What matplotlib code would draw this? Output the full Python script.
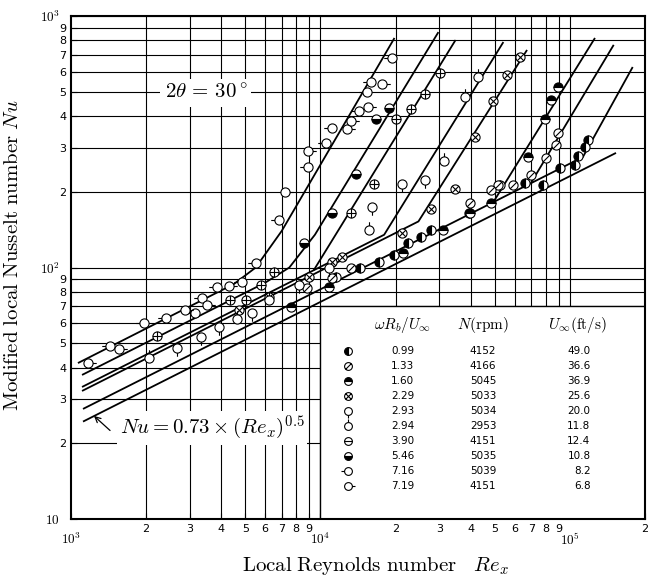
import matplotlib.pyplot as plt
import numpy as np
from matplotlib.path import Path
from matplotlib.patches import Rectangle
from matplotlib.ticker import FixedLocator, FixedFormatter

plt.rcParams['mathtext.fontset'] = 'cm'
plt.rcParams['font.family'] = 'DejaVu Sans'

# ---- legend table ----
ratio = ['0.99', '1.33', '1.60', '2.29', '2.93', '2.94', '3.90', '5.46', '7.16', '7.19']
rpm = ['4152', '4166', '5045', '5033', '5034', '2953', '4151', '5035', '5039', '4151']
u_inf = ['49.0', '36.6', '36.9', '25.6', '20.0', '11.8', '12.4', '10.8', '8.2', '6.8']

# ---- fitted curves (Re, Nu) ----
base_re = [1117, 153000]
base_nu = [24.4, 285.6]
p5_re = [1117, 112700, 178500]          # -> steep branch S8
p5_nu = [27.4, 275, 627]
s6_re = [49300, 126000]
s6_nu = [182, 818]
s7_re = [69800, 149800]
s7_nu = [217, 768]
p4_re = [1107, 24700, 67300]
p4_nu = [32.3, 152.5, 733]
p3_re = [1107, 18000, 54100]
p3_nu = [33.5, 135, 788]
s3_re = [9400, 34800]
s3_nu = [97.6, 803]
p2_re = [1107, 6000, 7500, 9500, 29700]
p2_nu = [37.4, 87, 100, 135, 863]
p1_re = [1066, 4500, 5500, 7000, 19800]
p1_nu = [41.7, 86, 100, 140, 818]

# ---- measured points ----
re_099 = [118000, 114800, 107700, 104700, 91200, 78000, 66100, 52600, 39500, 27860, 25180,
          22340, 19630, 17140, 14390, 11530]
nu_099 = [321, 301, 277, 256, 249, 213, 217, 213, 165, 141, 132, 125, 112, 105, 100, 91.6]
re_133 = [89540, 87900, 80200, 69800, 59200, 51600, 48400, 39900, 13240, 11120, 8830]
nu_133 = [343, 307, 272, 233, 213, 213, 203, 180, 100, 90.8, 82.8]
re_160 = [89540, 83950, 79400, 67900, 48400, 39900, 31100, 21500, 10820, 7620]
nu_160 = [522, 463, 389, 275, 180, 165, 141, 114, 83.6, 69.7]
re_229 = [63100, 56100, 49300, 41800, 34750, 27860, 21130, 12190, 11120, 8995, 6223, 4732]
nu_229 = [687, 582, 459, 330, 205, 171, 137, 110, 105, 91.6, 76.4, 67.8]
re_293 = [26360, 21130, 16070, 10820, 8200, 5333, 3936, 3334, 2649]
nu_293 = [223, 215, 174, 100, 85.1, 65.9, 58.0, 53.0, 47.9]
re_294 = [42950, 38110, 31410, 15630, 6223, 4645, 2046]
nu_294 = [571, 476, 265, 141, 74.3, 62.4, 43.6]
re_390 = [30270, 26360, 22960, 20000, 16370, 13240, 6520, 5780, 5050, 4355, 2203]
nu_390 = [593, 490, 427, 389, 215, 165, 95.9, 85.1, 74.3, 74.3, 53.5]
re_546 = [18750, 16670, 13870, 11120, 8590]
nu_546 = [431, 389, 235, 165, 125]
re_716 = [1432, 1954, 2393, 3155, 3365, 3864, 4864, 5534, 6823, 8913, 10520, 11120, 14260,
          15350, 15920, 19280]
nu_716 = [48.8, 60.1, 63.0, 65.9, 75.7, 83.6, 87.5, 104, 154, 251, 313, 359, 419, 499, 547, 681]
re_719 = [1169, 1556, 2851, 3524, 4315, 7211, 8913, 12770, 13240, 15490, 17620]
nu_719 = [41.7, 47.4, 67.8, 71.0, 84.3, 200, 291, 356, 383, 434, 537]

# ---- marker shapes ----
circ = Path.unit_circle()


def seg(p0, p1):
    return Path([p0, p1], [Path.MOVETO, Path.LINETO])


def mk(*segs):
    return Path.make_compound_path(circ, *segs)


m_slash = mk(seg((-0.71, -0.71), (0.71, 0.71)))
m_cross = mk(seg((-0.71, -0.71), (0.71, 0.71)), seg((-0.71, 0.71), (0.71, -0.71)))
m_plus = mk(seg((-1, 0), (1, 0)), seg((0, -1), (0, 1)))
m_minus = mk(seg((-1, 0), (1, 0)))
m_down = mk(seg((0, -1), (0, -1.8)))
m_up = mk(seg((0, 1), (0, 1.8)))
m_left = mk(seg((-1, 0), (-1.8, 0)))
m_right = mk(seg((1, 0), (1.8, 0)))

MS = 6.6
styles = [
    dict(marker='o', fillstyle='left', mfc='black', markerfacecoloralt='white', ms=MS),
    dict(marker=m_slash, mfc='white', ms=MS),
    dict(marker='o', fillstyle='top', mfc='black', markerfacecoloralt='white', ms=MS),
    dict(marker=m_cross, mfc='white', ms=MS),
    dict(marker=m_down, mfc='white', ms=MS * 1.8),
    dict(marker=m_up, mfc='white', ms=MS * 1.8),
    dict(marker=m_plus, mfc='white', ms=MS),
    dict(marker='o', fillstyle='bottom', mfc='black', markerfacecoloralt='white', ms=MS),
    dict(marker=m_left, mfc='white', ms=MS * 1.8),
    dict(marker=m_right, mfc='white', ms=MS * 1.8),
]
series = [(re_099, nu_099), (re_133, nu_133), (re_160, nu_160), (re_229, nu_229),
          (re_293, nu_293), (re_294, nu_294), (re_390, nu_390), (re_546, nu_546),
          (re_716, nu_716), (re_719, nu_719)]

fig = plt.figure(figsize=(6.48, 5.79), dpi=100)
ax = fig.add_axes([0.1096, 0.1036, 0.8858, 0.8687])
ax.set_xscale('log')
ax.set_yscale('log')
ax.set_xlim(1e3, 2e5)
ax.set_ylim(10, 1000)

# grid
for e in (3, 4):
    for k in range(2, 11):
        ax.axvline(k * 10 ** e, color='black', lw=0.8, zorder=1)
for e in (1, 2):
    for k in range(2, 11):
        ax.axhline(k * 10 ** e, color='black', lw=0.8, zorder=1)

# legend box
ax.add_patch(Rectangle((1e4, 10), 2e5 - 1e4, 60, facecolor='white', edgecolor='black',
                       lw=1.0, zorder=2))

# fitted curves
for r, n in [(base_re, base_nu), (p5_re, p5_nu), (s6_re, s6_nu), (s7_re, s7_nu),
             (p4_re, p4_nu), (p3_re, p3_nu), (s3_re, s3_nu), (p2_re, p2_nu), (p1_re, p1_nu)]:
    ax.plot(r, n, color='black', lw=1.3, zorder=3, solid_capstyle='butt')

# points
for (r, n), st in zip(series, styles):
    ax.plot(r, n, ls='none', mec='black', mew=0.8, zorder=4, **st)

# legend table
ax.text(0.578, 0.386, r'$\omega R_b/U_\infty$', transform=ax.transAxes, ha='center',
        va='center', fontsize=11, zorder=6)
ax.text(0.718, 0.386, r'$N(\mathrm{rpm})$', transform=ax.transAxes, ha='center',
        va='center', fontsize=11, zorder=6)
ax.text(0.882, 0.386, r'$U_\infty(\mathrm{ft/s})$', transform=ax.transAxes, ha='center',
        va='center', fontsize=11, zorder=6)
leg_styles = list(styles)
leg_styles[6] = dict(marker=m_minus, mfc='white', ms=MS)
for i in range(10):
    fy = 0.334 - i * 0.0298
    st = dict(leg_styles[i])
    st['ms'] = st['ms'] * 0.85
    ax.plot([0.4826], [fy], transform=ax.transAxes, ls='none', mec='black', mew=0.8,
            clip_on=False, zorder=6, **st)
    ax.text(0.578, fy, ratio[i], transform=ax.transAxes, ha='center', va='center',
            fontsize=7.5, zorder=6)
    ax.text(0.718, fy, rpm[i], transform=ax.transAxes, ha='center', va='center',
            fontsize=7.5, zorder=6)
    ax.text(0.905, fy, u_inf[i], transform=ax.transAxes, ha='right', va='center',
            fontsize=7.5, zorder=6)

# annotations
ax.text(0.235, 0.847, r'$2\theta\, =\, 30^\circ$', transform=ax.transAxes, ha='center',
        va='center', fontsize=15, zorder=6, bbox=dict(fc='white', ec='none', pad=3))
ax.text(0.2456, 0.181, r'$Nu = 0.73 \times (Re_x)^{0.5}$', transform=ax.transAxes,
        ha='center', va='center', fontsize=15, zorder=6,
        bbox=dict(fc='white', ec='none', pad=2))
ax.annotate('', xy=(0.040, 0.205), xycoords='axes fraction',
            xytext=(0.068, 0.176), textcoords='axes fraction', zorder=6,
            arrowprops=dict(arrowstyle='->', lw=0.9, color='black',
                            shrinkA=0, shrinkB=0))

# ticks
ax.xaxis.set_major_locator(FixedLocator([1e3, 1e4, 1e5]))
ax.xaxis.set_major_formatter(FixedFormatter([r'$\mathsf{10^3}$', r'$\mathsf{10^4}$',
                                             r'$\mathsf{10^5}$']))
xminor = [k * 10 ** e for e in (3, 4) for k in range(2, 10)] + [2e5]
ax.xaxis.set_minor_locator(FixedLocator(xminor))
ax.xaxis.set_minor_formatter(FixedFormatter([str(k) for k in range(2, 10)] * 2 + ['2']))
ax.yaxis.set_major_locator(FixedLocator([10, 100, 1000]))
ax.yaxis.set_major_formatter(FixedFormatter([r'$\mathsf{10}$', r'$\mathsf{10^2}$',
                                             r'$\mathsf{10^3}$']))
yminor = [k * 10 ** e for e in (1, 2) for k in range(2, 10)]
ax.yaxis.set_minor_locator(FixedLocator(yminor))
ax.yaxis.set_minor_formatter(FixedFormatter([str(k) for k in range(2, 10)] * 2))
ax.tick_params(which='both', direction='in', length=4, width=0.8, labelsize=8, zorder=5)
ax.tick_params(axis='x', which='major', labelsize=9.5, pad=9)
ax.tick_params(axis='y', which='major', labelsize=9.5, pad=8)
for s in ax.spines.values():
    s.set_linewidth(1.5)
    s.set_zorder(7)

ax.set_xlabel(r'$\mathrm{Local\ Reynolds\ number}\quad Re_x$', fontsize=15)
ax.xaxis.set_label_coords(0.53, -0.072)
ax.set_ylabel(r'$\mathrm{Modified\ local\ Nusselt\ number}\ Nu$', fontsize=15)
ax.yaxis.set_label_coords(-0.085, 0.525)

fig.savefig('out.png', dpi=100)
